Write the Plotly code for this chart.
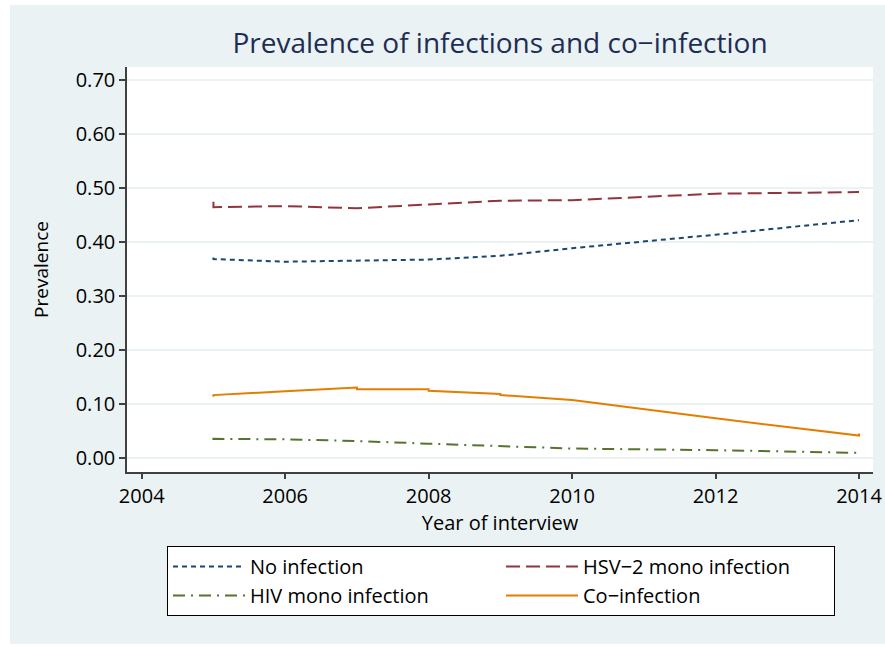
import plotly.graph_objects as go

# ---- data ----
no_inf_x = [2005, 2005, 2006, 2007, 2008, 2009, 2010, 2012, 2014]
no_inf_y = [0.372, 0.369, 0.364, 0.366, 0.368, 0.375, 0.389, 0.414, 0.441]

hsv_x = [2005, 2005, 2006, 2007, 2008, 2009, 2010, 2012, 2014]
hsv_y = [0.475, 0.465, 0.467, 0.463, 0.470, 0.477, 0.478, 0.490, 0.493]

hiv_x = [2005, 2005, 2006, 2007, 2008, 2009, 2010, 2012, 2014]
hiv_y = [0.034, 0.036, 0.035, 0.032, 0.027, 0.022, 0.018, 0.015, 0.010]

co_x = [2005, 2005, 2006, 2007, 2007, 2008, 2008, 2009, 2009, 2010, 2012, 2014, 2014]
co_y = [0.114, 0.117, 0.124, 0.131, 0.128, 0.128, 0.125, 0.119, 0.117, 0.108, 0.074, 0.042, 0.046]

series_names = ["No infection", "HSV\u22122 mono infection", "HIV mono infection", "Co\u2212infection"]
y_ticks = [0.0, 0.1, 0.2, 0.3, 0.4, 0.5, 0.6, 0.7]
x_ticks = [2004, 2006, 2008, 2010, 2012, 2014]

# ---- style ----
W, H = 885, 647
L, R, T, B = 127, 873, 67, 472
BG = "#eaf2f3"
FONT = "Open Sans"

fig = go.Figure()
fig.add_trace(go.Scatter(x=no_inf_x, y=no_inf_y, mode="lines", name=series_names[0],
                         line=dict(color="#1a476f", width=2, dash="5px,4px")))
fig.add_trace(go.Scatter(x=hsv_x, y=hsv_y, mode="lines", name=series_names[1],
                         line=dict(color="#90353b", width=2, dash="14px,6px")))
fig.add_trace(go.Scatter(x=hiv_x, y=hiv_y, mode="lines", name=series_names[2],
                         line=dict(color="#55752f", width=2, dash="12px,6px,2px,6px")))
fig.add_trace(go.Scatter(x=co_x, y=co_y, mode="lines", name=series_names[3],
                         line=dict(color="#e37e00", width=2)))

def px_x(p):
    return (p - L) / (R - L)

def px_y(p):
    return (B - p) / (B - T)

# white outer strips around the light background
shapes = [
    dict(type="rect", xref="paper", yref="paper", x0=px_x(0), x1=px_x(10), y0=px_y(H), y1=px_y(0),
         fillcolor="white", line=dict(width=0), layer="below"),
    dict(type="rect", xref="paper", yref="paper", x0=px_x(0), x1=px_x(W), y0=px_y(5), y1=px_y(0),
         fillcolor="white", line=dict(width=0), layer="below"),
    dict(type="rect", xref="paper", yref="paper", x0=px_x(0), x1=px_x(W), y0=px_y(H), y1=px_y(644),
         fillcolor="white", line=dict(width=0), layer="below"),
]

fig.update_layout(
    width=W, height=H,
    margin=dict(l=L, r=W - R, t=T, b=H - B, pad=0, autoexpand=False),
    paper_bgcolor=BG, plot_bgcolor="white",
    font=dict(family=FONT, color="#000000", size=18),
    title=dict(text="Prevalence of infections and co\u2212infection", x=0.5, xref="paper",
               y=1 - 43 / H, yanchor="middle",
               font=dict(family=FONT, size=28, color="#1e2d53")),
    shapes=shapes,
    showlegend=True,
    legend=dict(orientation="h", x=px_x(167), xanchor="left", y=px_y(546), yanchor="top",
                bgcolor="white", bordercolor="#000000", borderwidth=1,
                font=dict(family=FONT, size=20, color="#000000"),
                entrywidth=246, entrywidthmode="pixels", itemwidth=72,
                traceorder="normal", tracegroupgap=0),
)

fig.update_xaxes(range=[2003.795, 2014.195], tickvals=x_ticks, ticktext=[str(v) for v in x_ticks],
                 automargin=False,
                 showgrid=False, zeroline=False, showline=True, linecolor="#404040", linewidth=1.5,
                 ticks="outside", ticklen=5, tickwidth=1.5, tickcolor="#404040",
                 tickfont=dict(size=20), title=dict(text="Year of interview", font=dict(size=20), standoff=4))
fig.update_yaxes(range=[-0.0254, 0.7246], tickvals=y_ticks, tickformat=".2f",
                 automargin=False,
                 showgrid=True, gridcolor=BG, gridwidth=1.5, zeroline=False,
                 showline=True, linecolor="#404040", linewidth=1.5,
                 ticks="outside", ticklen=6, tickwidth=1.5, tickcolor="#404040",
                 tickfont=dict(size=20), title=dict(text="Prevalence", font=dict(size=19), standoff=22))

fig.write_html("out.html", config={"displayModeBar": False},
               post_script="document.body.style.margin='0';")
